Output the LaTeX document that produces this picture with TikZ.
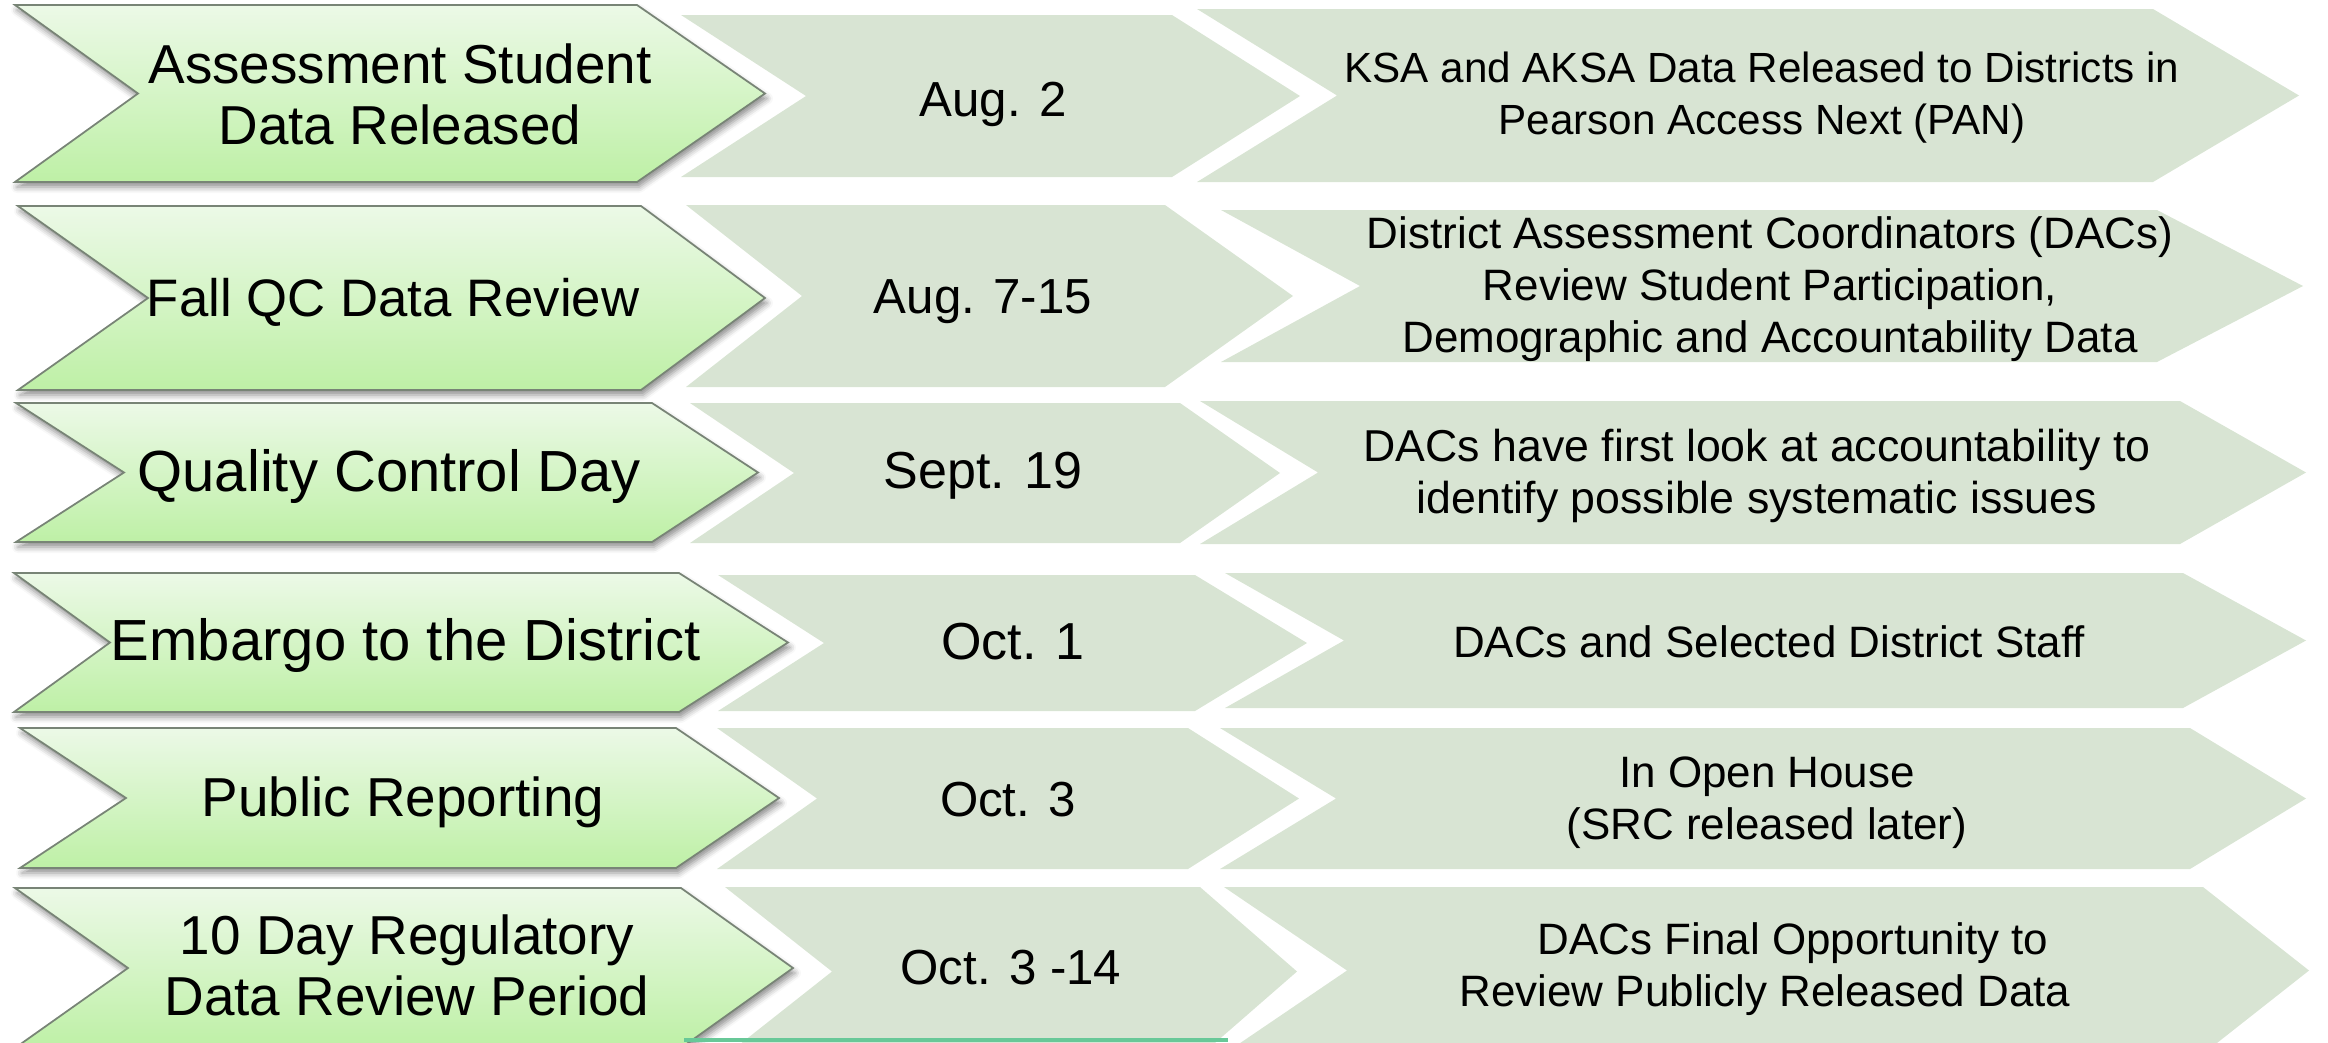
\documentclass[tikz,border=0pt]{standalone}
\usepackage{fontspec}
\setmainfont{Liberation Sans}
\usetikzlibrary{shadows.blur}
\definecolor{StageTop}{RGB}{236,249,231}
\definecolor{StageBottom}{RGB}{190,240,166}
\definecolor{StageEdge}{RGB}{120,132,118}
\definecolor{SlotFill}{RGB}{216,228,211}
\definecolor{BaseTeal}{RGB}{104,200,152}

% chevron: style, left x, notch x, corner x, tip x, top y, bottom y
\newcommand{\chevronpath}[7]{%
  \path[#1] (#2,#6) -- (#4,#6) -- (#5,{(#6+#7)/2}) -- (#4,#7) -- (#2,#7) -- (#3,{(#6+#7)/2}) -- cycle;}

\begin{document}
\begin{tikzpicture}[
    x=0.01cm, y=-0.01cm,
    every node/.style={align=center, inner sep=0pt, text=black},
    stage/.style={top color=StageTop, bottom color=StageBottom, draw=StageEdge, line width=0.5pt,
      blur shadow={shadow xshift=0.02cm, shadow yshift=-0.05cm, shadow blur radius=0.06cm, shadow opacity=45}},
    slot/.style={fill=SlotFill},
    stagetext/.style={font=\fontsize{15.6pt}{17.4pt}\selectfont},
    bigstage/.style={font=\fontsize{16.5pt}{18pt}\selectfont},
    datetext/.style={font=\fontsize{14pt}{16pt}\selectfont},
    bigdate/.style={font=\fontsize{14.8pt}{16.5pt}\selectfont},
    notetext/.style={font=\fontsize{12.5pt}{14.8pt}\selectfont}
  ]
  \useasboundingbox (0,0) rectangle (2328,1042);

  % Date column
  \foreach \xl/\xn/\xc/\xt/\ya/\yb in {681/806/1172/1300/15/177, 686/802/1165/1293/205/387,
      690/794/1180/1280/403/543, 718/824/1195/1307/575/711, 717/817/1188/1299/728/869,
      725/832/1200/1297/887/1056}
    \chevronpath{slot}{\xl}{\xn}{\xc}{\xt}{\ya}{\yb};

  % Note column
  \foreach \xl/\xn/\xc/\xt/\ya/\yb in {1197/1337/2153/2299/9/182, 1221/1360/2157/2303/210/362,
      1200/1318/2180/2306/401/544, 1225/1344/2183/2306/573/708, 1220/1336/2190/2306/728/869,
      1224/1347/2203/2309/887/1054}
    \chevronpath{slot}{\xl}{\xn}{\xc}{\xt}{\ya}{\yb};

  % Stage column
  \foreach \xl/\xn/\xc/\xt/\ya/\yb in {15/138/637/765/5/182, 18/148/641/765/206/390,
      16/124/652/758/403/542, 14/110/679/788/573/712, 20/126/676/779/728/868,
      15/128/681/793/888/1048}
    \chevronpath{stage}{\xl}{\xn}{\xc}{\xt}{\ya}{\yb};

  % strip along the bottom edge
  \fill[BaseTeal] (684,1038) rectangle (1228,1042);

  % Stage labels
  \node[stagetext] (stage1) at (400,94) {Assessment Student\\Data Released};
  \node[stagetext, font=\fontsize{15pt}{17pt}\selectfont] (stage2) at (393,302) {Fall QC Data Review};
  \node[bigstage] (stage3) at (389,476) {Quality Control Day};
  \node[bigstage] (stage4) at (406,645) {Embargo to the District};
  \node[stagetext] (stage5) at (403,802) {Public Reporting};
  \node[stagetext] (stage6) at (407,965) {10 Day Regulatory\\Data Review Period};

  % Dates
  \node[datetext] (date1) at (993,104) {Aug. 2};
  \node[datetext] (date2) at (983,302) {Aug. 7-15};
  \node[bigdate] (date3) at (983,476) {Sept. 19};
  \node[bigdate] (date4) at (1013,642) {Oct. 1};
  \node[datetext] (date5) at (1008,800) {Oct. 3};
  \node[datetext] (date6) at (1011,968) {Oct. 3 -14};

  % Notes
  \node[notetext, font=\fontsize{12pt}{14.8pt}\selectfont] (note1) at (1762,98) {KSA and AKSA Data Released to Districts in\\Pearson Access Next (PAN)};
  \node[notetext] (note2) at (1770,289) {District Assessment Coordinators (DACs)\\Review Student Participation,\\Demographic and Accountability Data};
  \node[notetext, font=\fontsize{12.7pt}{14.8pt}\selectfont] (note3) at (1757,476) {DACs have first look at accountability to\\identify possible systematic issues};
  \node[notetext] (note4) at (1769,642) {DACs and Selected District Staff};
  \node[notetext] (note5) at (1767,803) {In Open House\\(SRC released later)};
  \node[notetext] (note6) at (1765,969) {\hspace*{0.56cm}DACs Final Opportunity to\\Review Publicly Released Data};
\end{tikzpicture}
\end{document}
